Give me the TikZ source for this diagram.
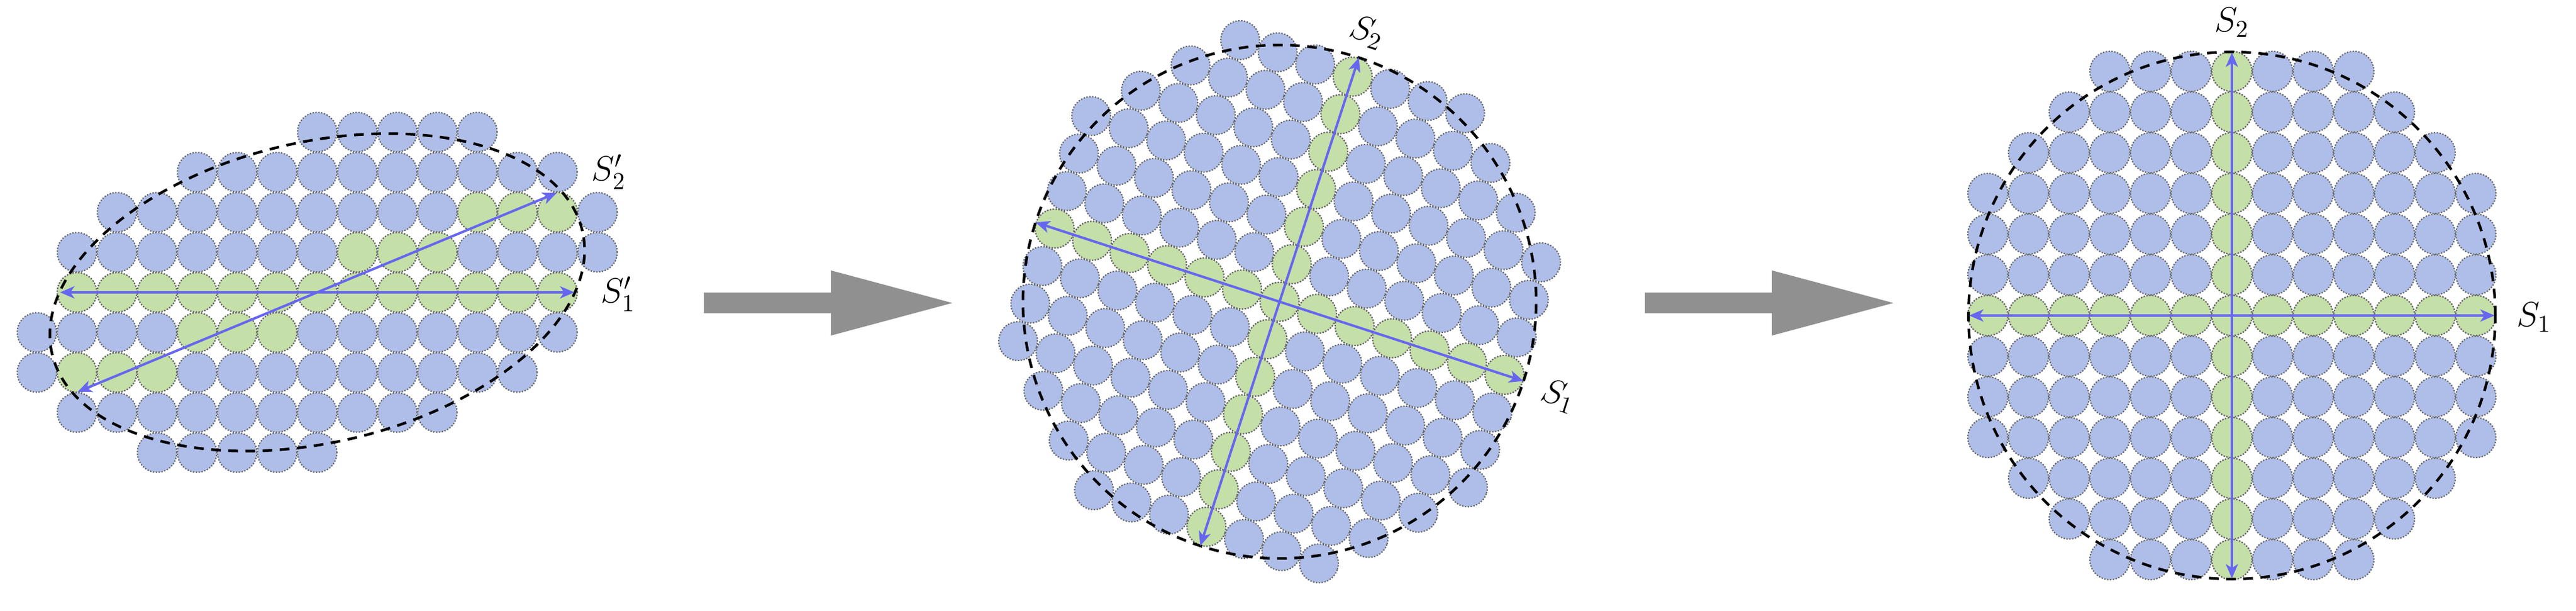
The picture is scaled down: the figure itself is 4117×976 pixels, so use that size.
\documentclass[tikz,border=0pt]{standalone}
\usetikzlibrary{arrows.meta}
\definecolor{discblue}{RGB}{174,190,232}
\definecolor{discgreen}{RGB}{197,223,168}
\definecolor{axisblue}{RGB}{102,102,240}
\definecolor{stepgray}{RGB}{144,144,144}
\tikzstyle{disc} = [draw=black!60, line width=0.6pt, dash pattern=on 0.6pt off 0.7pt]
\tikzstyle{bluedisc} = [disc, fill=discblue]
\tikzstyle{greendisc} = [disc, fill=discgreen]
\tikzstyle{boundary} = [draw=black, line width=1.2pt, dash pattern=on 4.4pt off 3.4pt]
\tikzstyle{axis} = [draw=axisblue, line width=1.1pt, {Stealth[length=6.5pt,width=5.5pt,inset=1.8pt]}-{Stealth[length=6.5pt,width=5.5pt,inset=1.8pt]}]
\tikzstyle{axislabel} = [inner sep=1pt, font=\Large, scale=1.1]
\newcommand{\roundrows}{6/-3/3, 5/-4/4, 4/-5/5, 3/-6/6, 2/-6/6, 1/-6/6, 0/-6/6, -1/-6/6, -2/-6/6, -3/-6/6, -4/-5/5, -5/-4/4, -6/-3/3}

\begin{document}
\begin{tikzpicture}[x=0.01cm, y=0.01cm]
\useasboundingbox (0,0) rectangle (4117,976);

% first cluster: oval
\begin{scope}[shift={(507,509)}]
\foreach \j/\lo/\hi in {4/0/4, 3/-3/6, 2/-5/7, 1/-6/7, 0/-6/6, -1/-7/6, -2/-7/5, -3/-6/3, -4/-4/0}
  \foreach \i in {\lo,...,\hi}
    \draw[bluedisc] (64*\i, 64*\j) circle (31.5);
\foreach \j/\lo/\hi in {0/-6/6, 2/4/6, 1/1/3, -1/-3/-1, -2/-6/-4}
  \foreach \i in {\lo,...,\hi}
    \draw[greendisc] (64*\i, 64*\j) circle (31.5);
\draw[boundary, rotate=13] (0,0) ellipse (435 and 240);
\coordinate (ovalw) at (-411,0);
\coordinate (ovale) at (411,0);
\coordinate (ovalsw) at (-383,-159);
\coordinate (ovalne) at (383,159);
\draw[axis] (ovalw) -- (ovale);
\draw[axis] (ovalsw) -- (ovalne);
\end{scope}
\node[axislabel] (ovalone) at (988,506) {$S'_1$};
\node[axislabel] (ovaltwo) at (973,701) {$S'_2$};

% step arrows
\foreach \x in {1125,2629}
  \fill[stepgray] (\x,475.5) -- ++(203,0) -- ++(0,-35.5) -- ++(194,52)
    -- ++(-194,52) -- ++(0,-35.5) -- ++(-203,0) -- cycle;

% second cluster: rotated
\begin{scope}[shift={(2045,494)}, rotate=-18]
\foreach \j/\lo/\hi in \roundrows
  \foreach \i in {\lo,...,\hi}
    \draw[bluedisc] (63*\i, 63*\j) circle (31);
\foreach \i in {-6,...,6} {
  \draw[greendisc] (63*\i, 0) circle (31);
  \draw[greendisc] (0, 63*\i) circle (31);
}
\draw[boundary] (0,0) circle (410);
\coordinate (tiltw) at (-410,0);
\coordinate (tilte) at (410,0);
\coordinate (tilts) at (0,-410);
\coordinate (tiltn) at (0,410);
\draw[axis] (tiltw) -- (tilte);
\draw[axis] (tilts) -- (tiltn);
\end{scope}
\node[axislabel, rotate=-18] (tiltone) at (2491,343) {$S_1$};
\node[axislabel, rotate=-18] (tilttwo) at (2185,924) {$S_2$};

% third cluster: upright
\begin{scope}[shift={(3567,472)}]
\foreach \j/\lo/\hi in \roundrows
  \foreach \i in {\lo,...,\hi}
    \draw[bluedisc] (65*\i, 65*\j) circle (32);
\foreach \i in {-6,...,6} {
  \draw[greendisc] (65*\i, 0) circle (32);
  \draw[greendisc] (0, 65*\i) circle (32);
}
\draw[boundary] (0,0) circle (421);
\coordinate (roundw) at (-420,0);
\coordinate (rounde) at (420,0);
\coordinate (rounds) at (0,-420);
\coordinate (roundn) at (0,420);
\draw[axis] (roundw) -- (rounde);
\draw[axis] (rounds) -- (roundn);
\end{scope}
\node[axislabel] (roundone) at (4050,469) {$S_1$};
\node[axislabel] (roundtwo) at (3567,940) {$S_2$};
\end{tikzpicture}
\end{document}
